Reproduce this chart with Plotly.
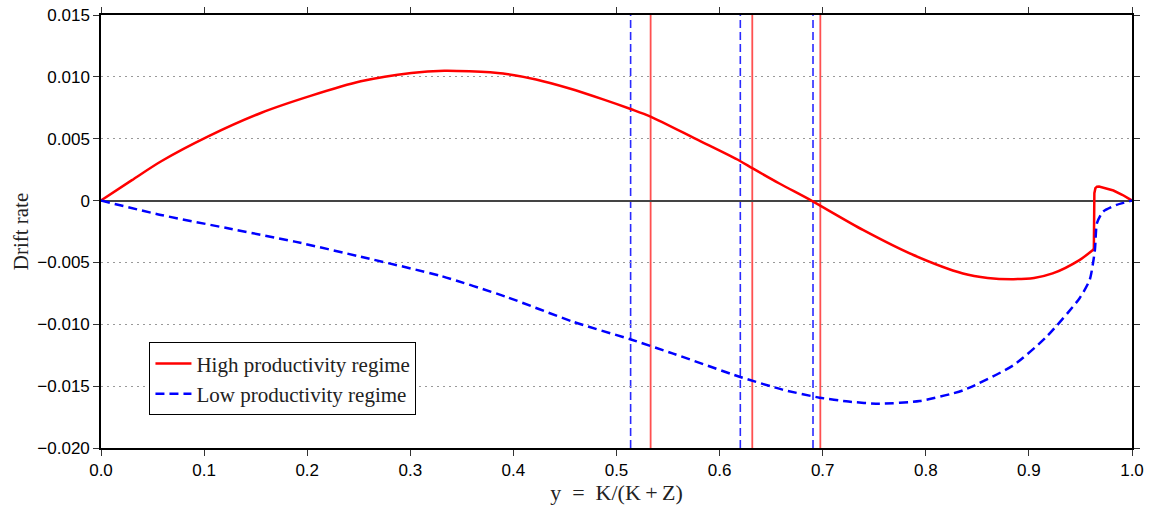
import plotly.graph_objects as go

# High productivity regime (red, solid) — smooth part, then the jump near y=0.964
high_x = [0.0, 0.03, 0.058, 0.104, 0.155, 0.204, 0.252, 0.301, 0.333, 0.3575, 0.390, 0.422,
          0.4545, 0.487, 0.5137, 0.533, 0.5774, 0.6194, 0.6317, 0.658, 0.689, 0.739, 0.788,
          0.836, 0.86, 0.885, 0.905, 0.923, 0.949, 0.963]
high_y = [0.0, 0.00165, 0.00316, 0.00519, 0.00708, 0.00848, 0.00964, 0.01032, 0.01050, 0.01045,
          0.01027, 0.00979, 0.00906, 0.00818, 0.00740, 0.00679, 0.00496, 0.00322, 0.00262,
          0.00138, 0.0, -0.00237, -0.00440, -0.00589, -0.00625, -0.00635, -0.00625, -0.00589,
          -0.00481, -0.00394]
high_tail_x = [0.963, 0.9635, 0.9645, 0.966, 0.968, 0.972, 0.982, 0.991, 1.0]
high_tail_y = [-0.00394, 0.00060, 0.00100, 0.00112, 0.00113, 0.00104, 0.00081, 0.00045, 0.0]

# Low productivity regime (blue, dashed)
low_x = [0.0, 0.058, 0.123, 0.188, 0.252, 0.330, 0.393, 0.458, 0.514, 0.555, 0.620, 0.661,
         0.697, 0.725, 0.755, 0.794, 0.836, 0.885, 0.917, 0.949, 0.959, 0.964, 0.966, 0.972,
         0.985, 1.0]
low_y = [0.0, -0.00116, -0.00224, -0.00332, -0.00454, -0.00610, -0.00778, -0.00980, -0.01123,
         -0.01237, -0.01426, -0.01528, -0.01593, -0.01625, -0.01642, -0.01620, -0.01534,
         -0.01331, -0.01102, -0.00791, -0.00640, -0.00400, -0.00183, -0.00089, -0.00035, 0.0]

# Vertical reference lines
red_vlines = [0.5331, 0.6317, 0.6977]
blue_vlines = [0.5137, 0.6201, 0.6906]

x_ticks = [0.0, 0.1, 0.2, 0.3, 0.4, 0.5, 0.6, 0.7, 0.8, 0.9, 1.0]
x_ticktext = ["0.0", "0.1", "0.2", "0.3", "0.4", "0.5", "0.6", "0.7", "0.8", "0.9", "1.0"]
y_ticks = [0.015, 0.010, 0.005, 0.0, -0.005, -0.010, -0.015, -0.020]
y_ticktext = ["0.015", "0.010", "0.005", "0", "\u22120.005", "\u22120.010", "\u22120.015", "\u22120.020"]

serif = "Liberation Serif, DejaVu Serif, serif"
sans = "Liberation Sans, Arial, sans-serif"

fig = go.Figure()
fig.add_trace(go.Scatter(x=high_x, y=high_y, mode="lines", name="High productivity regime",
                         legendgroup="high",
                         line=dict(color="#ff0000", width=2.5, shape="spline", smoothing=0.8)))
fig.add_trace(go.Scatter(x=high_tail_x, y=high_tail_y, mode="lines", name="High productivity regime",
                         legendgroup="high", showlegend=False,
                         line=dict(color="#ff0000", width=2.5)))
fig.add_trace(go.Scatter(x=low_x, y=low_y, mode="lines", name="Low productivity regime",
                         line=dict(color="#0000ff", width=2.5, dash="9px,5px",
                                   shape="spline", smoothing=0.6)))

for xv in blue_vlines:
    fig.add_shape(type="line", xref="x", yref="paper", x0=xv, x1=xv, y0=0, y1=1,
                  line=dict(color="#2a2aff", width=1.6, dash="8px,4px"), layer="between")
for xv in red_vlines:
    fig.add_shape(type="line", xref="x", yref="paper", x0=xv, x1=xv, y0=0, y1=1,
                  line=dict(color="#ff5050", width=1.8), layer="between")

fig.update_layout(
    width=1149, height=510,
    margin=dict(l=101, r=17, t=15, b=62, autoexpand=False),
    paper_bgcolor="white", plot_bgcolor="white",
    showlegend=True,
    legend=dict(x=0.047, y=0.244, xanchor="left", yanchor="top",
                bgcolor="white", bordercolor="black", borderwidth=1,
                font=dict(family=serif, size=21, color="#222"),
                tracegroupgap=0, itemwidth=36),
)
fig.update_xaxes(
    range=[0, 1], tickvals=x_ticks, ticktext=x_ticktext, automargin=False,
    showline=True, linecolor="black", linewidth=1.5, mirror="ticks",
    ticks="outside", ticklen=6, tickcolor="#333", tickwidth=1,
    showgrid=False, zeroline=False,
    tickfont=dict(family=sans, size=17, color="black"),
    title=dict(text="y\u2002=\u2002K/(K\u2009+\u2009Z)",
               font=dict(family=serif, size=22, color="#222"), standoff=5),
)
fig.update_yaxes(
    range=[-0.020, 0.015], tickvals=y_ticks, ticktext=y_ticktext, automargin=False,
    showline=True, linecolor="black", linewidth=1.5, mirror="ticks",
    ticks="outside", ticklen=6, tickcolor="#333", tickwidth=1,
    showgrid=True, gridcolor="#999999", griddash="1.5px,4.5px", gridwidth=1,
    zeroline=True, zerolinecolor="#444444", zerolinewidth=1.5,
    tickfont=dict(family=sans, size=17, color="black"),
    title=dict(text="Drift rate", font=dict(family=serif, size=21, color="#222"), standoff=3),
)

fig.write_html("out.html", config={"displayModeBar": False},
               post_script="document.body.style.margin='0';document.body.style.overflow='hidden';")
